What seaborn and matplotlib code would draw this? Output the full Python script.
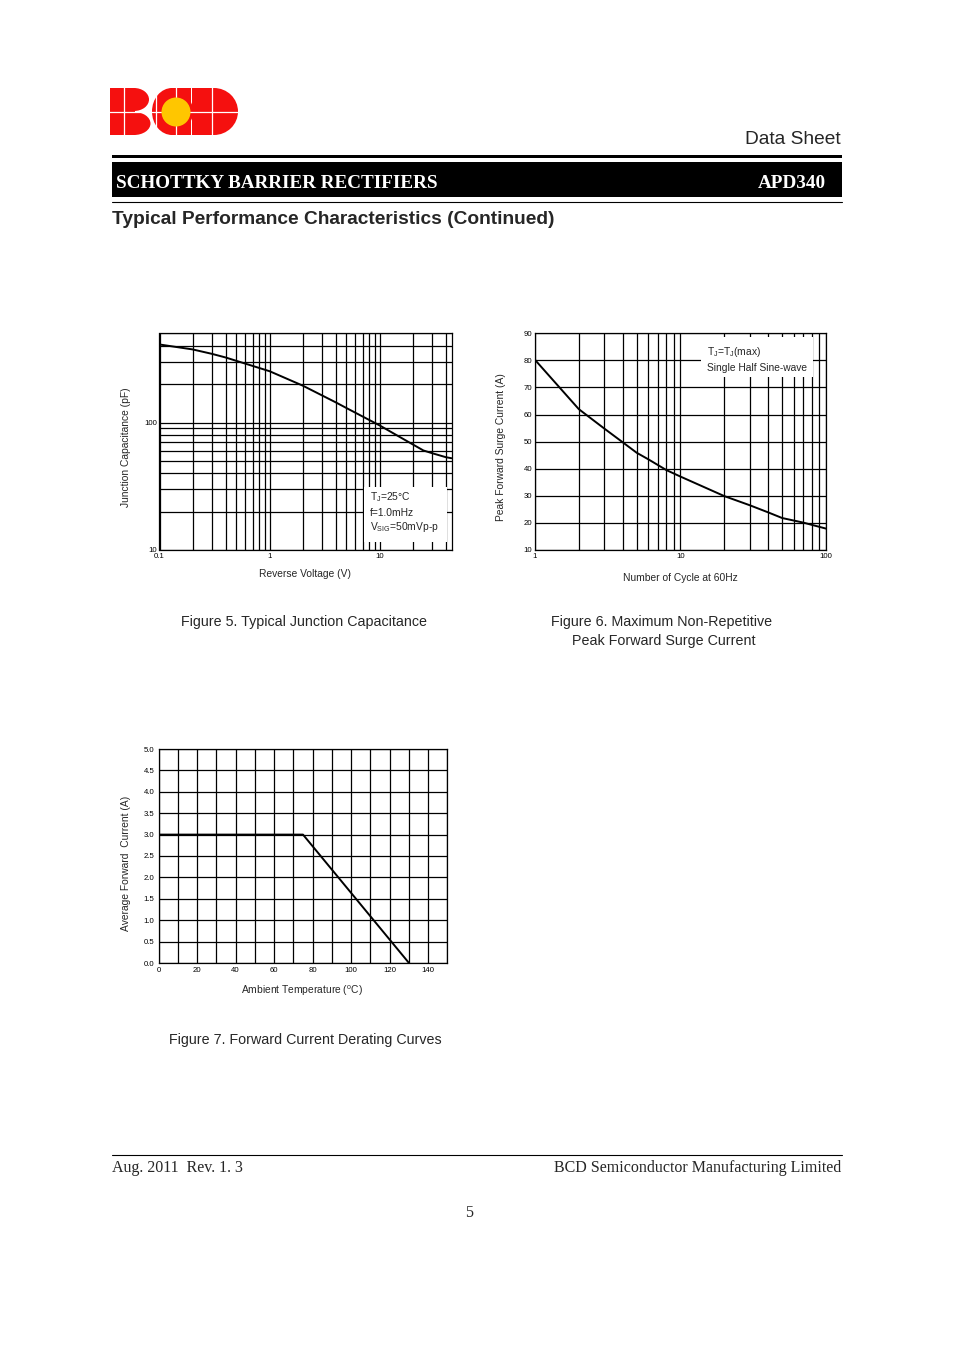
import matplotlib
matplotlib.use("Agg")
import matplotlib.pyplot as plt
import matplotlib.ticker as mticker
from matplotlib.patches import Rectangle, Ellipse, Circle
import numpy as np
import pandas as pd
import seaborn as sns

# ---------------- data ----------------
cap_voltage = [0.1, 0.2, 0.3, 0.4, 0.5, 1, 2, 4, 5, 10, 18, 25, 30, 40, 45]
cap_pf = [410, 375, 346, 324, 305, 253, 195, 144, 130, 95, 71, 60.4, 57.5, 53.5, 52.5]

surge_cycles = [1, 2, 3, 4, 5, 6, 8, 10, 20, 30, 40, 50, 70, 100]
surge_amps = [80.2, 62.0, 54.8, 49.8, 45.9, 43.5, 39.5, 37.1, 29.9, 26.5, 23.9, 21.8, 20.1, 17.9]

derate_temp = [0, 75, 130]
derate_amps = [3.0, 3.0, 0.0]

f5_xticks = [0.1, 1, 10]
f5_xlabels = ["0.1", "1", "10"]
f5_yticks = [10, 100]
f5_ylabels = ["10", "100"]

f6_xticks = [1, 10, 100]
f6_xlabels = ["1", "10", "100"]
f6_yticks = [10, 20, 30, 40, 50, 60, 70, 80, 90]
f6_ylabels = ["10", "20", "30", "40", "50", "60", "70", "80", "90"]

f7_xticks = [0, 20, 40, 60, 80, 100, 120, 140]
f7_xlabels = ["0", "20", "40", "60", "80", "100", "120", "140"]
f7_xgrid = [10, 30, 50, 70, 90, 110, 130, 150]
f7_yticks = [0.0, 0.5, 1.0, 1.5, 2.0, 2.5, 3.0, 3.5, 4.0, 4.5, 5.0]
f7_ylabels = ["0.0", "0.5", "1.0", "1.5", "2.0", "2.5", "3.0", "3.5", "4.0", "4.5", "5.0"]

# ---------------- style ----------------
sns.set_style("white")
plt.rcParams['font.family'] = ['Liberation Sans', 'DejaVu Sans']
plt.rcParams['mathtext.fontset'] = 'custom'
plt.rcParams['mathtext.rm'] = 'Liberation Sans'
plt.rcParams['mathtext.it'] = 'Liberation Sans:italic'
plt.rcParams['mathtext.bf'] = 'Liberation Sans:bold'

W, H = 954, 1351
fig = plt.figure(figsize=(W / 100, H / 100), dpi=100)
fig.patch.set_facecolor('white')


def ax_rect(x0, y0, x1, y1):
    return [x0 / W, 1 - y1 / H, (x1 - x0) / W, (y1 - y0) / H]


page = fig.add_axes([0, 0, 1, 1])
page.set_xlim(0, W)
page.set_ylim(H, 0)
page.axis('off')

# ---------------- logo ----------------
red = '#F5100F'
yellow = '#FFC600'
page.add_patch(Rectangle((110, 88), 25, 47, color=red, lw=0))
page.add_patch(Ellipse((134, 99.5), 30, 23, color=red, lw=0))
page.add_patch(Ellipse((134, 123.5), 33, 23, color=red, lw=0))
page.add_patch(Rectangle((171, 88), 20, 47, color=red, lw=0))
page.add_patch(Ellipse((172, 111.5), 40, 47, color=red, lw=0))
page.add_patch(Rectangle((192, 88), 22, 47, color=red, lw=0))
page.add_patch(Ellipse((214, 111.5), 48, 47, color=red, lw=0))
page.plot([108, 242], [112, 112], color='white', lw=0.9)
for xv in [124, 156, 176, 212]:
    page.plot([xv, xv], [86, 137], color='white', lw=0.9)
page.add_patch(Circle((176, 112), 14.5, color=yellow, lw=0, zorder=5))

# ---------------- header ----------------
page.text(841, 140, "Data Sheet", ha='right', va='center', fontsize=13.8)
page.add_patch(Rectangle((112, 154.5), 730, 3.5, color='black', lw=0))
page.add_patch(Rectangle((112, 162), 730, 35, color='black', lw=0))
page.text(116, 184, "SCHOTTKY BARRIER RECTIFIERS", ha='left', va='center',
          fontsize=13.8, color='white', fontweight='bold', family='Liberation Serif')
page.text(826, 184, "APD340", ha='right', va='center',
          fontsize=13.8, color='white', fontweight='bold', family='Liberation Serif')
page.plot([112, 842], [201.5, 201.5], color='black', lw=0.8)
page.text(112, 220, "Typical Performance Characteristics (Continued)", ha='left',
          va='center', fontsize=13.8, fontweight='bold')

# ---------------- footer ----------------
page.plot([112, 842], [1154.5, 1154.5], color='black', lw=0.8)
page.text(112, 1168, "Aug. 2011  Rev. 1. 3", ha='left', va='center',
          fontsize=11.5, family='Liberation Serif')
page.text(841, 1168, "BCD Semiconductor Manufacturing Limited", ha='right', va='center',
          fontsize=11.5, family='Liberation Serif')
page.text(469, 1213, "5", ha='center', va='center', fontsize=11.5, family='Liberation Serif')

TICK_FS = 5.6
LAB_FS = 7.4
CAP_FS = 10.3
GRID_LW = 0.9
CURVE_LW = 1.4


def style_axes(ax):
    for s in ax.spines.values():
        s.set_color('black')
        s.set_linewidth(GRID_LW)
        s.set_visible(True)
    ax.tick_params(which='both', length=0, labelsize=TICK_FS, colors='black')
    ax.grid(True, which='both', color='black', lw=GRID_LW)
    ax.set_xlabel('')
    ax.set_ylabel('')
    ax.set_facecolor('white')


# ---------------- Figure 5 ----------------
ax5 = fig.add_axes(ax_rect(159.5, 333.5, 451.5, 550))
df5 = pd.DataFrame({'v': cap_voltage, 'c': cap_pf})
sns.lineplot(data=df5, x='v', y='c', ax=ax5, color='black', lw=CURVE_LW, zorder=3)
ax5.set_xscale('log')
ax5.set_yscale('log')
ax5.set_xlim(0.1, 45)
ax5.set_ylim(10, 500)
ax5.set_xticks(f5_xticks)
ax5.set_xticklabels(f5_xlabels)
ax5.set_yticks(f5_yticks)
ax5.set_yticklabels(f5_ylabels)
ax5.xaxis.set_minor_locator(mticker.LogLocator(base=10, subs=np.arange(2, 10)))
ax5.yaxis.set_minor_locator(mticker.LogLocator(base=10, subs=np.arange(2, 10)))
ax5.xaxis.set_minor_formatter(mticker.NullFormatter())
ax5.yaxis.set_minor_formatter(mticker.NullFormatter())
style_axes(ax5)
ax5.tick_params(axis='y', pad=1.5)
ax5.tick_params(axis='x', pad=2)
ax5.add_patch(Rectangle((0.700, 0.037), 0.283, 0.254, transform=ax5.transAxes,
                        facecolor='white', edgecolor='none', zorder=1.8))
ax5.text(0.721, 0.245, r"T$_\mathrm{J}$=25°C", transform=ax5.transAxes, fontsize=LAB_FS,
         va='center', ha='left', zorder=4)
ax5.text(0.721, 0.171, "f=1.0mHz", transform=ax5.transAxes, fontsize=LAB_FS,
         va='center', ha='left', zorder=4)
ax5.text(0.721, 0.106, r"V$_\mathrm{SIG}$=50mVp-p", transform=ax5.transAxes, fontsize=LAB_FS,
         va='center', ha='left', zorder=4)

page.text(305, 574, "Reverse Voltage (V)", ha='center', va='center', fontsize=LAB_FS)
page.text(126, 447, "Junction Capacitance (pF)", ha='center', va='center',
          fontsize=LAB_FS, rotation=90)
page.text(304, 622, "Figure 5. Typical Junction Capacitance", ha='center', va='center',
          fontsize=CAP_FS)

# ---------------- Figure 6 ----------------
ax6 = fig.add_axes(ax_rect(535, 333.3, 826, 550))
df6 = pd.DataFrame({'n': surge_cycles, 'i': surge_amps})
sns.lineplot(data=df6, x='n', y='i', ax=ax6, color='black', lw=CURVE_LW, zorder=3)
ax6.set_xscale('log')
ax6.set_xlim(1, 100)
ax6.set_ylim(10, 90)
ax6.set_xticks(f6_xticks)
ax6.set_xticklabels(f6_xlabels)
ax6.set_yticks(f6_yticks)
ax6.set_yticklabels(f6_ylabels)
ax6.xaxis.set_minor_locator(mticker.LogLocator(base=10, subs=np.arange(2, 10)))
ax6.xaxis.set_minor_formatter(mticker.NullFormatter())
ax6.yaxis.set_minor_locator(mticker.NullLocator())
style_axes(ax6)
ax6.tick_params(axis='y', pad=2)
ax6.tick_params(axis='x', pad=2)
ax6.add_patch(Rectangle((0.570, 0.798), 0.385, 0.185, transform=ax6.transAxes,
                        facecolor='white', edgecolor='none', zorder=1.8))
ax6.text(0.591, 0.914, r"T$_\mathrm{J}$=T$_\mathrm{J}$(max)", transform=ax6.transAxes,
         fontsize=LAB_FS, va='center', ha='left', zorder=4)
ax6.text(0.591, 0.840, "Single Half Sine-wave", transform=ax6.transAxes,
         fontsize=LAB_FS, va='center', ha='left', zorder=4)

page.text(680, 578, "Number of Cycle at 60Hz", ha='center', va='center', fontsize=LAB_FS)
page.text(501, 447, "Peak Forward Surge Current (A)", ha='center', va='center',
          fontsize=LAB_FS, rotation=90)
page.text(662, 622, "Figure 6. Maximum Non-Repetitive", ha='center', va='center',
          fontsize=CAP_FS)
page.text(664, 641, "Peak Forward Surge Current", ha='center', va='center',
          fontsize=CAP_FS)

# ---------------- Figure 7 ----------------
ax7 = fig.add_axes(ax_rect(158.5, 749, 447.5, 963))
df7 = pd.DataFrame({'t': derate_temp, 'a': derate_amps})
sns.lineplot(data=df7, x='t', y='a', ax=ax7, color='black', lw=CURVE_LW, zorder=3)
ax7.set_xlim(0, 150)
ax7.set_ylim(0, 5)
ax7.set_xticks(f7_xticks)
ax7.set_xticklabels(f7_xlabels)
ax7.set_xticks(f7_xgrid, minor=True)
ax7.set_yticks(f7_yticks)
ax7.set_yticklabels(f7_ylabels)
style_axes(ax7)
ax7.tick_params(axis='y', pad=3)
ax7.tick_params(axis='x', pad=3)

page.text(302, 991, "Ambient Temperature ($^\\mathrm{o}$C)", ha='center', va='center',
          fontsize=LAB_FS)
page.text(126, 863, "Average Forward  Current (A)", ha='center', va='center',
          fontsize=LAB_FS, rotation=90)
page.text(305, 1040, "Figure 7. Forward Current Derating Curves", ha='center', va='center',
          fontsize=CAP_FS)

fig.savefig("out.png", dpi=100, facecolor='white')
